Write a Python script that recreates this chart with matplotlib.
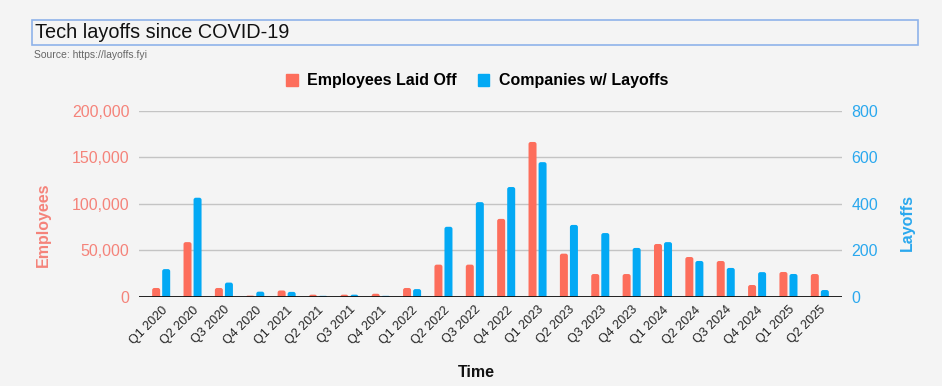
import numpy as np
import matplotlib
import matplotlib.pyplot as plt
from matplotlib.patches import Rectangle, Patch, FancyBboxPatch

matplotlib.rcParams['font.family'] = ['Liberation Sans', 'DejaVu Sans']

# 数据
quarters = ['Q1 2020', 'Q2 2020', 'Q3 2020', 'Q4 2020',
            'Q1 2021', 'Q2 2021', 'Q3 2021', 'Q4 2021',
            'Q1 2022', 'Q2 2022', 'Q3 2022', 'Q4 2022',
            'Q1 2023', 'Q2 2023', 'Q3 2023', 'Q4 2023',
            'Q1 2024', 'Q2 2024', 'Q3 2024', 'Q4 2024',
            'Q1 2025', 'Q2 2025']
employees = [9700, 59000, 9700, 1500, 7000, 2500, 2500, 3500, 9700, 34800, 34800, 84000,
             166700, 46600, 24700, 24700, 57000, 43000, 38700, 12900, 26900, 24700]
companies = [120, 427, 62, 23, 22, 5, 10, 5, 34, 302, 408, 473,
             580, 310, 275, 211, 236, 155, 125, 107, 99, 30]

red = '#fd6e5c'
blue = '#03a9f4'
red_txt = '#f4837a'
blue_txt = '#2aa8ee'
bg = '#f4f4f4'

fig = plt.figure(figsize=(9.42, 3.86), dpi=100, facecolor=bg)
ax = fig.add_axes([139/942, 1 - 297/386, 703/942, 186/386], facecolor=bg)
ax2 = ax.twinx()

x = np.arange(len(quarters))
w = 0.255
xlim = (-0.707, len(quarters) - 0.293)
ax.set_xlim(*xlim)
ax.set_ylim(0, 200000)
ax2.set_ylim(0, 800)


# 圆角柱子：把普通柱子换成 FancyBboxPatch
def rounded_bars(a, xs, vals, color, ymax):
    px_x = (xlim[1] - xlim[0]) / 703.0
    px_y = ymax / 186.0
    aspect = px_y / px_x
    for xi, v in zip(xs, vals):
        r = min(2.2 * px_x, v / aspect)
        p = FancyBboxPatch((xi - w / 2, -r * aspect), w, v + r * aspect,
                           boxstyle='round,pad=0,rounding_size=%f' % r,
                           mutation_aspect=aspect, facecolor=color, edgecolor='none',
                           zorder=3, clip_on=True)
        a.add_patch(p)


rounded_bars(ax, x - 0.16, employees, red, 200000)
rounded_bars(ax2, x + 0.16, companies, blue, 800)

ax.set_yticks([0, 50000, 100000, 150000, 200000])
ax.set_yticklabels(['0', '50,000', '100,000', '150,000', '200,000'])
ax2.set_yticks([0, 200, 400, 600, 800])

ax.grid(axis='y', color='#c4c4c4', lw=1, zorder=0)
ax.set_axisbelow(True)
for a in (ax, ax2):
    for s in a.spines.values():
        s.set_visible(False)
ax2.axhline(0, color='#111111', lw=1.3, zorder=6)

ax.tick_params(axis='y', length=0, pad=7, labelsize=11.5, labelcolor=red_txt)
ax2.tick_params(axis='y', length=0, pad=7, labelsize=11.5, labelcolor=blue_txt)
ax.set_xticks(x)
ax.set_xticklabels(quarters, rotation=45, ha='right', rotation_mode='anchor',
                   fontsize=9, color='#222222')
ax.tick_params(axis='x', length=0, pad=5)

ax.set_ylabel('Employees', fontsize=11.5, fontweight='bold', color=red_txt)
ax.yaxis.set_label_coords(-0.125, 0.39)
ax2.set_ylabel('Layoffs', fontsize=11.5, fontweight='bold', color=blue_txt, rotation=90)
ax2.yaxis.set_label_coords(1.082, 0.40)
ax.set_xlabel('Time', fontsize=11.5, fontweight='bold', color='#111111')
ax.xaxis.set_label_coords(0.48, -0.367)

# 标题框
fig.patches.append(Rectangle((32/942, 1 - 45/386), 886/942, 25/386, transform=fig.transFigure,
                             facecolor=bg, edgecolor='#8fb3ea', lw=1.2))
fig.text(35/942, 1 - 33/386, 'Tech layoffs since COVID-19', fontsize=14.3,
         color='#111111', va='center', ha='left')
fig.text(34/942, 1 - 55/386, 'Source: https://layoffs.fyi', fontsize=7.5,
         color='#666666', va='center', ha='left')

# 图例
handles = [Patch(color=red, label='Employees Laid Off'),
           Patch(color=blue, label='Companies w/ Layoffs')]
fig.legend(handles=handles, loc='center', bbox_to_anchor=(477/942, 1 - 81/386), ncol=2,
           frameon=False, prop={'weight': 'bold', 'size': 11.5},
           handlelength=0.75, handleheight=0.75, handletextpad=0.6, columnspacing=1.3)

fig.savefig('out.png', dpi=100, facecolor=bg)
